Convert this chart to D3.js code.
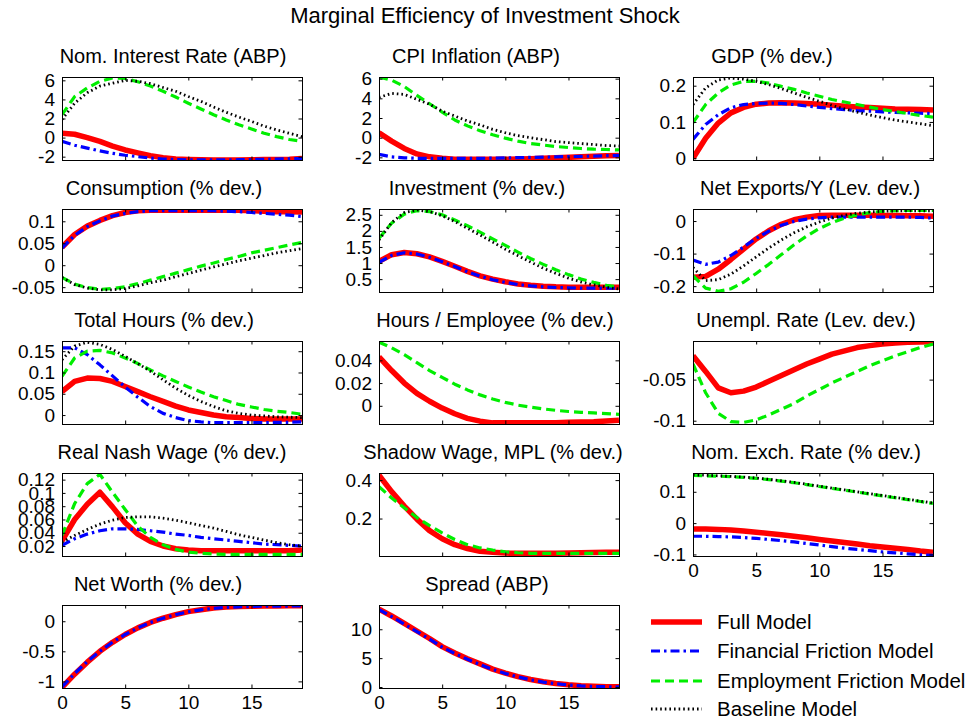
<!DOCTYPE html>
<html>
<head>
<meta charset="utf-8">
<script src="https://cdn.jsdelivr.net/npm/d3@7"></script>
<style>
  body { margin: 0; background: #ffffff; }
  svg text { font-family: "Liberation Sans", Arial, Helvetica, sans-serif; fill: #000; }
</style>
</head>
<body>
<svg id="chart" width="970" height="721"></svg>
<script>
// ---------- data ----------
const figureTitle = "Marginal Efficiency of Investment Shock";
const periods = [0,1,2,3,4,5,6,7,8,9,10,11,12,13,14,15,16,17,18,19];
const xTicks = [0, 5, 10, 15];
const seriesNames = ["Full Model", "Financial Friction Model", "Employment Friction Model", "Baseline Model"];

const panelTitles = [
  "Nom. Interest Rate (ABP)", "CPI Inflation (ABP)", "GDP (% dev.)",
  "Consumption (% dev.)", "Investment (% dev.)", "Net Exports/Y (Lev. dev.)",
  "Total Hours (% dev.)", "Hours / Employee (% dev.)", "Unempl. Rate (Lev. dev.)",
  "Real Nash Wage (% dev.)", "Shadow Wage, MPL (% dev.)", "Nom. Exch. Rate (% dev.)",
  "Net Worth (% dev.)", "Spread (ABP)"
];

// Nominal interest rate
const nomRateFull = [0.45,0.35,0.0,-0.4,-0.9,-1.3,-1.6,-1.9,-2.1,-2.25,-2.3,-2.33,-2.35,-2.35,-2.34,-2.33,-2.31,-2.29,-2.26,-2.2];
const nomRateFin  = [-0.4,-0.8,-1.1,-1.4,-1.65,-1.85,-2.0,-2.15,-2.25,-2.3,-2.33,-2.34,-2.34,-2.33,-2.32,-2.3,-2.28,-2.25,-2.22,-2.2];
const nomRateEmp  = [2.4,4.3,5.2,5.9,6.25,6.2,5.85,5.4,4.85,4.25,3.6,3.0,2.4,1.85,1.35,0.9,0.45,0.1,-0.2,-0.4];
const nomRateBase = [1.9,3.6,4.7,5.4,5.7,6.0,5.9,5.65,5.25,4.85,4.3,3.8,3.2,2.65,2.15,1.7,1.2,0.8,0.45,0.1];
const nomRateLim = [-2.35, 6.35];
const nomRateTicks = [-2, 0, 2, 4, 6];

// CPI inflation
const cpiFull = [0.5,-0.35,-1.1,-1.65,-1.95,-2.1,-2.2,-2.2,-2.2,-2.2,-2.2,-2.18,-2.15,-2.1,-2.05,-2.0,-1.95,-1.9,-1.85,-1.8];
const cpiFin  = [-1.7,-1.95,-2.05,-2.1,-2.1,-2.1,-2.1,-2.1,-2.1,-2.08,-2.05,-2.03,-2.0,-1.98,-1.95,-1.92,-1.9,-1.87,-1.83,-1.8];
const cpiEmp  = [6.15,5.85,5.2,4.3,3.45,2.6,1.8,1.2,0.7,0.3,-0.05,-0.35,-0.6,-0.75,-0.9,-1.0,-1.1,-1.17,-1.2,-1.25];
const cpiBase = [4.1,4.5,4.4,3.9,3.4,2.7,2.2,1.7,1.3,0.85,0.5,0.2,0.0,-0.2,-0.4,-0.5,-0.6,-0.7,-0.8,-0.85];
const cpiLim = [-2.27, 6.17];
const cpiTicks = [-2, 0, 2, 4, 6];

// GDP
const gdpFull = [0.0,0.055,0.097,0.125,0.14,0.149,0.152,0.153,0.152,0.151,0.149,0.146,0.143,0.141,0.14,0.138,0.136,0.135,0.134,0.133];
const gdpFin  = [0.052,0.093,0.12,0.139,0.148,0.151,0.152,0.151,0.148,0.144,0.14,0.137,0.134,0.131,0.13,0.128,0.126,0.125,0.124,0.123];
const gdpEmp  = [0.098,0.148,0.18,0.202,0.212,0.212,0.207,0.198,0.19,0.18,0.171,0.162,0.155,0.148,0.141,0.134,0.129,0.123,0.118,0.113];
const gdpBase = [0.148,0.194,0.216,0.221,0.218,0.212,0.203,0.192,0.18,0.168,0.157,0.146,0.136,0.127,0.119,0.112,0.105,0.1,0.095,0.09];
const gdpLim = [-0.005, 0.224];
const gdpTicks = [0, 0.1, 0.2];

// Consumption
const consFull = [0.041,0.07,0.089,0.102,0.113,0.12,0.124,0.125,0.125,0.125,0.125,0.125,0.125,0.125,0.125,0.124,0.123,0.122,0.122,0.121];
const consFin  = [0.039,0.068,0.088,0.101,0.112,0.118,0.122,0.124,0.124,0.124,0.124,0.124,0.124,0.123,0.122,0.12,0.118,0.116,0.114,0.111];
const consEmp  = [-0.028,-0.043,-0.051,-0.055,-0.053,-0.049,-0.042,-0.034,-0.026,-0.018,-0.01,-0.002,0.005,0.013,0.02,0.028,0.034,0.04,0.046,0.052];
const consBase = [-0.028,-0.044,-0.052,-0.056,-0.056,-0.053,-0.047,-0.04,-0.034,-0.026,-0.019,-0.011,-0.004,0.003,0.01,0.016,0.022,0.028,0.033,0.038];
const consLim = [-0.061, 0.128];
const consTicks = [-0.05, 0, 0.05, 0.1];

// Investment
const invFull = [1.05,1.26,1.33,1.29,1.19,1.05,0.9,0.74,0.6,0.5,0.42,0.35,0.31,0.28,0.26,0.25,0.25,0.25,0.25,0.25];
const invFin  = [1.02,1.24,1.32,1.28,1.18,1.04,0.89,0.73,0.59,0.48,0.4,0.33,0.29,0.26,0.24,0.23,0.22,0.22,0.22,0.22];
const invEmp  = [1.77,2.24,2.52,2.63,2.6,2.5,2.34,2.16,1.96,1.75,1.55,1.34,1.14,0.96,0.79,0.64,0.5,0.4,0.31,0.25];
const invBase = [1.72,2.26,2.57,2.65,2.6,2.47,2.29,2.08,1.87,1.65,1.43,1.23,1.03,0.84,0.68,0.53,0.41,0.32,0.25,0.19];
const invLim = [0.1, 2.68];
const invTicks = [0.5, 1, 1.5, 2, 2.5];

// Net exports / output
const nxFull = [-0.173,-0.17,-0.148,-0.118,-0.086,-0.055,-0.03,-0.01,0.004,0.012,0.017,0.018,0.018,0.018,0.018,0.017,0.017,0.016,0.016,0.015];
const nxFin  = [-0.12,-0.133,-0.126,-0.106,-0.08,-0.053,-0.031,-0.013,-0.001,0.006,0.01,0.012,0.012,0.012,0.012,0.012,0.012,0.012,0.011,0.009];
const nxEmp  = [-0.168,-0.206,-0.216,-0.208,-0.188,-0.161,-0.133,-0.103,-0.073,-0.046,-0.023,-0.005,0.009,0.019,0.026,0.03,0.032,0.033,0.033,0.033];
const nxBase = [-0.143,-0.183,-0.18,-0.163,-0.138,-0.11,-0.083,-0.058,-0.036,-0.018,-0.003,0.009,0.018,0.024,0.028,0.03,0.031,0.031,0.031,0.031];
const nxLim = [-0.218, 0.037];
const nxTicks = [-0.2, -0.1, 0];

// Total hours
const hoursFull = [0.055,0.079,0.087,0.086,0.079,0.067,0.055,0.043,0.032,0.021,0.012,0.006,0.0,-0.004,-0.006,-0.008,-0.009,-0.009,-0.009,-0.009];
const hoursFin  = [0.158,0.158,0.142,0.118,0.092,0.066,0.042,0.02,0.004,-0.006,-0.013,-0.016,-0.018,-0.018,-0.018,-0.018,-0.018,-0.017,-0.017,-0.016];
const hoursEmp  = [0.091,0.134,0.15,0.152,0.146,0.134,0.121,0.106,0.092,0.079,0.066,0.054,0.043,0.034,0.025,0.019,0.013,0.009,0.006,0.002];
const hoursBase = [0.13,0.162,0.171,0.166,0.154,0.138,0.121,0.103,0.083,0.063,0.046,0.032,0.02,0.01,0.004,0.0,-0.002,-0.004,-0.005,-0.006];
const hoursLim = [-0.021, 0.174];
const hoursTicks = [0, 0.05, 0.1, 0.15];

// Hours per employee
const hpeFull = [0.043,0.031,0.02,0.011,0.004,-0.002,-0.007,-0.011,-0.0135,-0.015,-0.015,-0.015,-0.015,-0.015,-0.015,-0.0145,-0.0142,-0.014,-0.0134,-0.0126];
const hpeEmp  = [0.056,0.051,0.045,0.038,0.031,0.025,0.019,0.014,0.0096,0.006,0.003,0.0006,-0.0012,-0.0027,-0.004,-0.005,-0.0057,-0.0063,-0.0069,-0.0075];
const hpeLim = [-0.016, 0.057];
const hpeTicks = [0, 0.02, 0.04];

// Unemployment rate
const unempFull = [-0.021,-0.04,-0.06,-0.066,-0.064,-0.059,-0.052,-0.045,-0.038,-0.031,-0.025,-0.019,-0.015,-0.011,-0.0086,-0.0066,-0.0053,-0.0045,-0.0041,-0.004];
const unempEmp  = [-0.031,-0.066,-0.091,-0.101,-0.102,-0.099,-0.093,-0.086,-0.079,-0.07,-0.062,-0.054,-0.047,-0.04,-0.033,-0.027,-0.021,-0.016,-0.011,-0.0068];
const unempLim = [-0.104, -0.003];
const unempTicks = [-0.1, -0.05];

// Real Nash wage
const wageFull = [0.028,0.06,0.083,0.101,0.079,0.055,0.038,0.027,0.02,0.016,0.014,0.013,0.013,0.013,0.013,0.013,0.013,0.013,0.013,0.014];
const wageFin  = [0.021,0.031,0.038,0.043,0.046,0.046,0.045,0.043,0.041,0.038,0.036,0.033,0.031,0.029,0.027,0.025,0.023,0.022,0.021,0.02];
const wageEmp  = [0.036,0.084,0.114,0.128,0.101,0.075,0.05,0.033,0.022,0.015,0.011,0.009,0.008,0.0075,0.0073,0.0073,0.0073,0.0073,0.0073,0.0073];
const wageBase = [0.026,0.036,0.045,0.053,0.059,0.063,0.064,0.064,0.062,0.059,0.055,0.051,0.047,0.042,0.037,0.033,0.029,0.025,0.022,0.02];
const wageLim = [0.005, 0.13];
const wageTicks = [0.02, 0.04, 0.06, 0.08, 0.1, 0.12];

// Shadow wage, marginal product of labour
const mplFull = [0.425,0.34,0.265,0.197,0.137,0.095,0.064,0.044,0.03,0.024,0.02,0.019,0.019,0.019,0.019,0.021,0.022,0.023,0.024,0.024];
const mplEmp  = [0.366,0.307,0.256,0.205,0.163,0.125,0.091,0.064,0.047,0.036,0.027,0.022,0.019,0.019,0.019,0.019,0.019,0.019,0.019,0.019];
const mplLim = [0.005, 0.437];
const mplTicks = [0.2, 0.4];

// Nominal exchange rate
const fxFull = [-0.019,-0.019,-0.02,-0.022,-0.025,-0.029,-0.033,-0.037,-0.042,-0.047,-0.052,-0.057,-0.062,-0.067,-0.072,-0.076,-0.08,-0.084,-0.089,-0.093];
const fxFin  = [-0.042,-0.042,-0.043,-0.044,-0.046,-0.049,-0.052,-0.056,-0.06,-0.065,-0.07,-0.075,-0.08,-0.084,-0.088,-0.092,-0.095,-0.098,-0.101,-0.103];
const fxEmp  = [0.152,0.151,0.15,0.148,0.146,0.143,0.139,0.134,0.129,0.123,0.117,0.111,0.105,0.099,0.093,0.087,0.081,0.075,0.069,0.063];
const fxBase = [0.154,0.153,0.151,0.149,0.147,0.144,0.14,0.135,0.13,0.124,0.118,0.112,0.106,0.1,0.094,0.088,0.082,0.076,0.07,0.064];
const fxLim = [-0.105, 0.16];
const fxTicks = [-0.1, 0, 0.1];

// Entrepreneurial net worth
const nwFull = [-1.1,-0.88,-0.68,-0.5,-0.35,-0.22,-0.11,-0.02,0.05,0.11,0.16,0.19,0.22,0.235,0.245,0.25,0.253,0.255,0.256,0.256];
const nwFin  = [-1.09,-0.87,-0.67,-0.5,-0.35,-0.22,-0.11,-0.02,0.05,0.11,0.155,0.19,0.215,0.23,0.24,0.245,0.25,0.252,0.253,0.254];
const nwLim = [-1.11, 0.27];
const nwTicks = [-1, -0.5, 0];

// Credit spread
const spreadFull = [13.5,12.3,11.0,9.7,8.4,7.0,5.9,4.9,4.0,3.1,2.4,1.8,1.3,0.9,0.6,0.38,0.22,0.12,0.06,0.03];
const spreadFin  = [13.4,12.2,10.9,9.6,8.3,6.9,5.8,4.8,3.9,3.05,2.35,1.75,1.25,0.85,0.56,0.35,0.2,0.1,0.05,0.02];
const spreadLim = [-0.17, 14.2];
const spreadTicks = [0, 5, 10];

// ---------- panel table (series order: full, financial, employment, baseline) ----------
const panels = [
  { lines: [nomRateFull, nomRateFin, nomRateEmp, nomRateBase], lim: nomRateLim, ticks: nomRateTicks },
  { lines: [cpiFull, cpiFin, cpiEmp, cpiBase], lim: cpiLim, ticks: cpiTicks },
  { lines: [gdpFull, gdpFin, gdpEmp, gdpBase], lim: gdpLim, ticks: gdpTicks },
  { lines: [consFull, consFin, consEmp, consBase], lim: consLim, ticks: consTicks },
  { lines: [invFull, invFin, invEmp, invBase], lim: invLim, ticks: invTicks },
  { lines: [nxFull, nxFin, nxEmp, nxBase], lim: nxLim, ticks: nxTicks },
  { lines: [hoursFull, hoursFin, hoursEmp, hoursBase], lim: hoursLim, ticks: hoursTicks },
  { lines: [hpeFull, null, hpeEmp, null], lim: hpeLim, ticks: hpeTicks },
  { lines: [unempFull, null, unempEmp, null], lim: unempLim, ticks: unempTicks },
  { lines: [wageFull, wageFin, wageEmp, wageBase], lim: wageLim, ticks: wageTicks },
  { lines: [mplFull, null, mplEmp, null], lim: mplLim, ticks: mplTicks },
  { lines: [fxFull, fxFin, fxEmp, fxBase], lim: fxLim, ticks: fxTicks },
  { lines: [nwFull, nwFin, null, null], lim: nwLim, ticks: nwTicks },
  { lines: [spreadFull, spreadFin, null, null], lim: spreadLim, ticks: spreadTicks }
].map((p, i) => Object.assign(p, { title: panelTitles[i] }));

// ---------- layout & styles ----------
const colLeft = [62, 379, 693];
const rowTop = [77, 209, 341, 473, 605];
const plotW = 240, plotH = 83;
const titleCenterX = [173, 476, 772, 164, 477, 810, 164, 495, 806, 172, 493, 806, 158, 487];
const xLabelPanels = [11, 12, 13];
const tickLen = 3.5;

const lineStyles = [
  { color: "#ff0000", width: 5.5, dash: null },
  { color: "#0000ff", width: 3.2, dash: "9,4,2.5,4" },
  { color: "#00ee00", width: 3.2, dash: "9,5" },
  { color: "#000000", width: 2.8, dash: "1.6,3" }
];

const svg = d3.select("#chart");
const defs = svg.append("defs");

svg.append("text")
  .attr("x", 485).attr("y", 23)
  .attr("text-anchor", "middle")
  .attr("font-size", 22)
  .text(figureTitle);

const fmt = d => String(+d.toFixed(4));

panels.forEach((p, i) => {
  const col = i % 3, row = Math.floor(i / 3);
  const left = colLeft[col], top = rowTop[row];
  const x = d3.scaleLinear().domain([0, 19]).range([left, left + plotW]);
  const y = d3.scaleLinear().domain(p.lim).range([top + plotH, top]);

  defs.append("clipPath").attr("id", "clip" + i)
    .append("rect").attr("x", left).attr("y", top).attr("width", plotW).attr("height", plotH);

  const g = svg.append("g");
  const plot = g.append("g").attr("clip-path", `url(#clip${i})`);

  const line = d3.line().x((d, j) => x(periods[j])).y(d => y(d));
  p.lines.forEach((vals, k) => {
    if (!vals) return;
    const s = lineStyles[k];
    plot.append("path")
      .datum(vals)
      .attr("d", line)
      .attr("fill", "none")
      .attr("stroke", s.color)
      .attr("stroke-width", s.width)
      .attr("stroke-dasharray", s.dash)
      .attr("stroke-linejoin", "round");
  });

  // axes with inward ticks on all four sides
  const styleAxis = sel => {
    sel.select(".domain").remove();
    sel.selectAll(".tick line").attr("stroke", "#000").attr("stroke-width", 1);
    sel.attr("font-family", null).attr("font-size", 19);
  };
  g.append("g").attr("transform", `translate(${left},0)`)
    .call(d3.axisLeft(y).tickValues(p.ticks).tickSize(-tickLen).tickPadding(7).tickFormat(fmt))
    .call(styleAxis);
  g.append("g").attr("transform", `translate(${left + plotW},0)`)
    .call(d3.axisRight(y).tickValues(p.ticks).tickSize(-tickLen).tickFormat(""))
    .call(styleAxis);
  g.append("g").attr("transform", `translate(0,${top})`)
    .call(d3.axisTop(x).tickValues(xTicks).tickSize(-tickLen).tickFormat(""))
    .call(styleAxis);
  g.append("g").attr("transform", `translate(0,${top + plotH})`)
    .call(d3.axisBottom(x).tickValues(xTicks).tickSize(-tickLen).tickPadding(7.5)
      .tickFormat(xLabelPanels.includes(i) ? fmt : ""))
    .call(styleAxis);

  g.append("rect")
    .attr("x", left + 0.5).attr("y", top + 0.5)
    .attr("width", plotW).attr("height", plotH)
    .attr("fill", "none").attr("stroke", "#000").attr("stroke-width", 1);

  g.append("text")
    .attr("x", titleCenterX[i]).attr("y", top - 14)
    .attr("text-anchor", "middle")
    .attr("font-size", 20)
    .text(p.title);
});

// legend
const legendY = [622, 651, 681, 709];
const legend = svg.append("g");
seriesNames.forEach((name, k) => {
  const s = lineStyles[k];
  legend.append("line")
    .attr("x1", 651).attr("x2", 702)
    .attr("y1", legendY[k]).attr("y2", legendY[k])
    .attr("stroke", s.color).attr("stroke-width", s.width)
    .attr("stroke-dasharray", s.dash);
  legend.append("text")
    .attr("x", 717).attr("y", legendY[k]).attr("dy", "0.35em")
    .attr("font-size", 20.5)
    .text(name);
});
</script>
</body>
</html>
